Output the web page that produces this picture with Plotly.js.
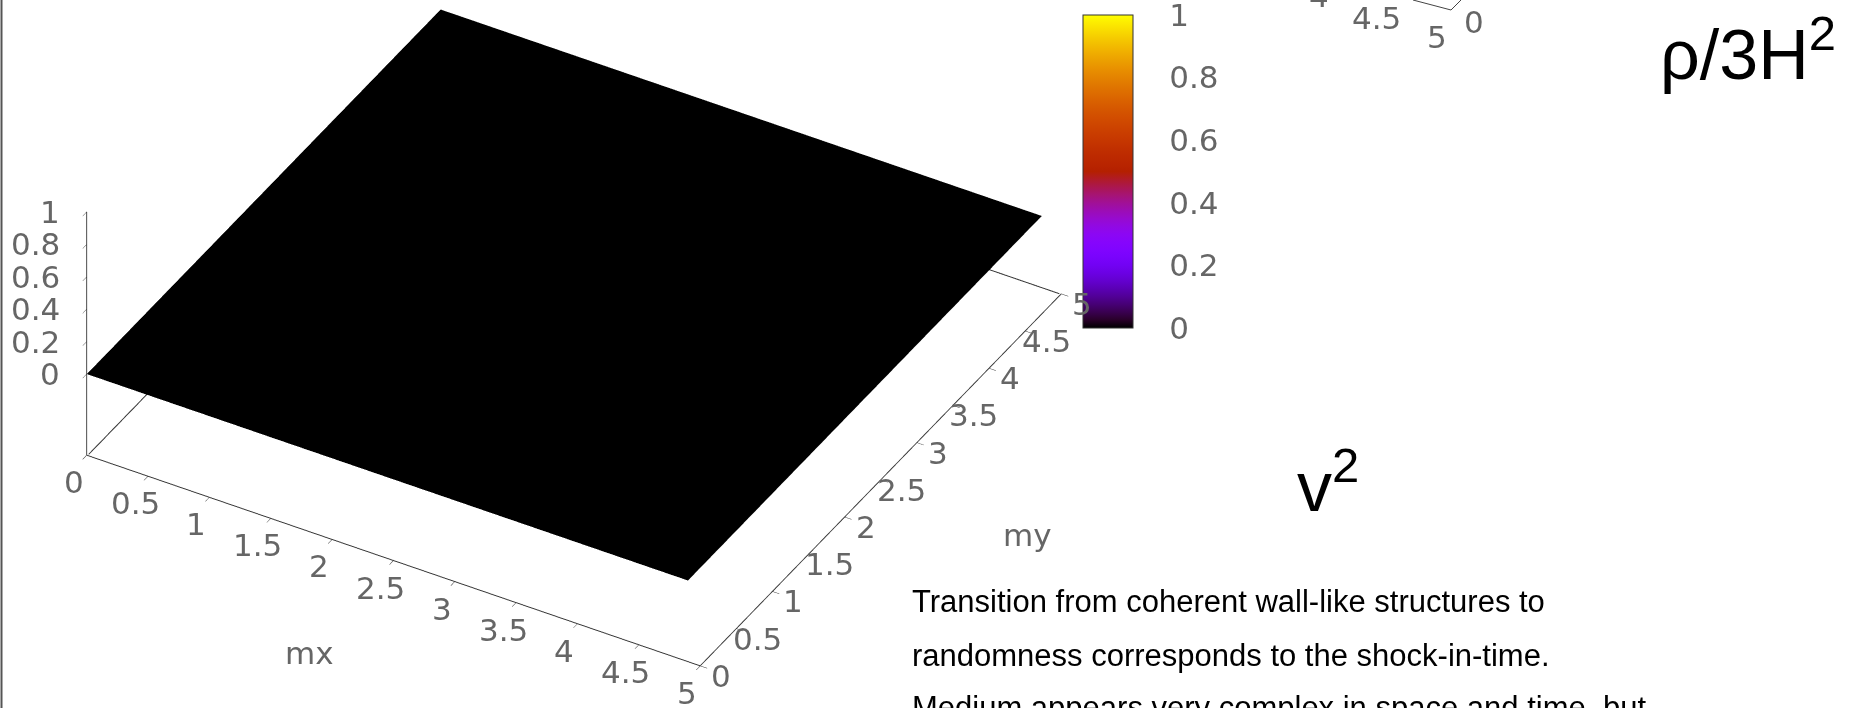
<!DOCTYPE html>
<html>
<head>
<meta charset="utf-8">
<script src="https://cdn.plot.ly/plotly-3.0.1.min.js"></script>
<style>
html,body{margin:0;padding:0;background:#fff;overflow:hidden}
#chart{width:1857px;height:708px}
</style>
</head>
<body>
<div id="chart"></div>
<script>
// ---------------- data ----------------
const mx = [0, 0.5, 1, 1.5, 2, 2.5, 3, 3.5, 4, 4.5, 4.9];
const my = [0, 0.5, 1, 1.5, 2, 2.5, 3, 3.5, 4, 4.5, 4.9];
const surfaceZ = [
  [0,0,0,0,0,0,0,0,0,0,0],
  [0,0,0,0,0,0,0,0,0,0,0],
  [0,0,0,0,0,0,0,0,0,0,0],
  [0,0,0,0,0,0,0,0,0,0,0],
  [0,0,0,0,0,0,0,0,0,0,0],
  [0,0,0,0,0,0,0,0,0,0,0],
  [0,0,0,0,0,0,0,0,0,0,0],
  [0,0,0,0,0,0,0,0,0,0,0],
  [0,0,0,0,0,0,0,0,0,0,0],
  [0,0,0,0,0,0,0,0,0,0,0],
  [0,0,0,0,0,0,0,0,0,0,0]
];
const xRange = [0, 5];
const yRange = [0, 5];
const zRange = [-0.5, 1];
const xyTicks = [0, 0.5, 1, 1.5, 2, 2.5, 3, 3.5, 4, 4.5, 5];
const xyTickText = ['0', '0.5', '1', '1.5', '2', '2.5', '3', '3.5', '4', '4.5', '5'];
const zTicks = [0, 0.2, 0.4, 0.6, 0.8, 1];
const zTickText = ['0', '0.2', '0.4', '0.6', '0.8', '1'];
const cbTicks = [0, 0.2, 0.4, 0.6, 0.8, 1];
const cbTickText = ['0', '0.2', '0.4', '0.6', '0.8', '1'];
const xTitle = 'mx';
const yTitle = 'my';
const labelRho = 'ρ/3H<sup>2</sup>';
const labelV = 'v<sup>2</sup>';
const paragraph = [
  'Transition from coherent wall-like structures to',
  'randomness corresponds to the shock-in-time.',
  'Medium appears very complex in space and time, but'
];
const fragmentLabels = ['4', '4.5', '5', '0'];

// ---------------- styling helpers ----------------
const W = 1857, H = 708;
const px = v => v / W;
const py = v => 1 - v / H;

// gnuplot default palette (rgbformulae 7,5,15)
const colorscale = [];
for (let i = 0; i <= 40; i++) {
  const t = i / 40;
  const r = Math.round(255 * Math.sqrt(t));
  const g = Math.round(255 * Math.pow(t, 3));
  const b = Math.round(255 * Math.max(0, Math.sin(2 * Math.PI * t)));
  colorscale.push([t, `rgb(${r},${g},${b})`]);
}

// orthographic camera (gnuplot-like view); zoom is set through aspectratio
const phi = -60 * Math.PI / 180, th = 36.5 * Math.PI / 180;
const dir = [Math.cos(th) * Math.cos(phi), Math.cos(th) * Math.sin(phi), Math.sin(th)];
const rightV = [-Math.sin(phi), Math.cos(phi), 0];
const upV = [-Math.sin(th) * Math.cos(phi), -Math.sin(th) * Math.sin(phi), Math.cos(th)];
const S0 = 350;           // px per world unit of the orthographic view
const D = 4;              // camera distance
const a = (W / 2 - 578) / S0, b = -(H / 2 - 254) / S0;
const center = [0, 1, 2].map(i => a * rightV[i] + b * upV[i]);
const eye = [0, 1, 2].map(i => center[i] + D * dir[i]);

const tickFont = {family: 'DejaVu Sans', size: 31, color: '#666'};
const axCommon = {
  showbackground: false, showgrid: false, zeroline: false, showspikes: false,
  showline: true, linecolor: '#333', linewidth: 2,
  ticks: 'inside', ticklen: 8, tickcolor: '#333', tickwidth: 1,
  showticklabels: false, title: {text: ''}
};

const surface = {
  type: 'surface',
  x: mx, y: my, z: surfaceZ,
  cmin: 0, cmax: 1,
  colorscale: colorscale,
  hoverinfo: 'skip',
  lighting: {ambient: 1, diffuse: 0, specular: 0, roughness: 1, fresnel: 0},
  showscale: true,
  colorbar: {
    x: px(1083), xanchor: 'left', y: py(15), yanchor: 'top',
    len: 313, lenmode: 'pixels', thickness: 50, thicknessmode: 'pixels',
    xpad: 0, ypad: 0, outlinewidth: 1, outlinecolor: '#333', borderwidth: 0,
    tickmode: 'array', tickvals: cbTicks, ticktext: cbTickText,
    ticklabeloverflow: 'allow',
    ticks: 'outside', ticklen: 30, tickcolor: 'rgba(0,0,0,0)', tickfont: tickFont
  }
};

// back edges of the base rectangle (hidden by the surface where it covers them),
// pulled a hair inside the box so they are not clipped by the scene bounds
const ex = (xRange[1] - xRange[0]) * 0.002, ey = (yRange[1] - yRange[0]) * 0.002, ez = (zRange[1] - zRange[0]) * 0.002;
const baseEdges = {
  type: 'scatter3d', mode: 'lines',
  x: [xRange[0] + ex, xRange[0] + ex, xRange[1] - ex],
  y: [yRange[0] + ey, yRange[1] - ey, yRange[1] - ey],
  z: [zRange[0] + ez, zRange[0] + ez, zRange[0] + ez],
  line: {color: '#333', width: 2},
  hoverinfo: 'skip', showlegend: false
};

// tick labels as flat (gnuplot-like) scene annotations
const sceneAnn = [];
xyTicks.forEach((t, i) => sceneAnn.push({x: t, y: yRange[0], z: zRange[0], text: xyTickText[i],
  xanchor: 'center', yanchor: 'middle', xshift: -13, yshift: -27}));
xyTicks.forEach((t, i) => sceneAnn.push({x: xRange[1], y: t, z: zRange[0], text: xyTickText[i],
  xanchor: 'center', yanchor: 'middle', xshift: 21, yshift: -10}));
zTicks.forEach((t, i) => sceneAnn.push({x: xRange[0], y: yRange[0], z: t, text: zTickText[i],
  xanchor: 'right', yanchor: 'middle', xshift: -25, yshift: 0}));
sceneAnn.push({x: (xRange[0] + xRange[1]) / 2, y: yRange[0], z: zRange[0], text: xTitle,
  xanchor: 'center', yanchor: 'middle', xshift: -84, yshift: -92});
sceneAnn.push({x: xRange[1], y: (yRange[0] + yRange[1]) / 2, z: zRange[0], text: yTitle,
  xanchor: 'center', yanchor: 'middle', xshift: 147, yshift: -55});
sceneAnn.forEach(o => { o.showarrow = false; o.font = tickFont; });

const txtFont = {family: 'Liberation Sans, Arial', color: '#000'};
const annotations = [
  {text: labelRho, x: px(1838), y: py(50), xanchor: 'right', yanchor: 'middle',
   font: Object.assign({size: 70}, txtFont)},
  {text: labelV, x: px(1295), y: py(482), xanchor: 'left', yanchor: 'middle',
   font: Object.assign({size: 70}, txtFont)},
  {text: paragraph[0], x: px(910), y: py(601), xanchor: 'left', yanchor: 'middle',
   font: Object.assign({size: 31}, txtFont)},
  {text: paragraph[1], x: px(910), y: py(655), xanchor: 'left', yanchor: 'middle',
   font: Object.assign({size: 31}, txtFont)},
  {text: paragraph[2], x: px(910), y: py(707), xanchor: 'left', yanchor: 'middle',
   font: Object.assign({size: 31}, txtFont)},
  {text: fragmentLabels[0], x: px(1319), y: py(-4), xanchor: 'center', yanchor: 'middle', font: tickFont},
  {text: fragmentLabels[1], x: px(1376), y: py(18), xanchor: 'center', yanchor: 'middle', font: tickFont},
  {text: fragmentLabels[2], x: px(1437), y: py(37), xanchor: 'center', yanchor: 'middle', font: tickFont},
  {text: fragmentLabels[3], x: px(1474), y: py(22), xanchor: 'center', yanchor: 'middle', font: tickFont}
].map(o => Object.assign({xref: 'paper', yref: 'paper', showarrow: false}, o));

// colorbar inner tick marks (both edges), from the colorbar ticks
const cbTop = 15, cbLen = 313, cbLeft = 1083, cbRight = 1133;
const shapes = [
  {type: 'line', xref: 'paper', yref: 'paper', x0: px(1.5), x1: px(1.5), y0: 0, y1: 1,
   line: {color: '#555', width: 2}},
  {type: 'line', xref: 'paper', yref: 'paper', x0: px(1413), y0: py(0), x1: px(1451), y1: py(10),
   line: {color: '#444', width: 1}},
  {type: 'line', xref: 'paper', yref: 'paper', x0: px(1451), y0: py(10), x1: px(1461), y1: py(0),
   line: {color: '#444', width: 1}}
];
cbTicks.slice(1, -1).forEach(t => {
  const yy = py(cbTop + (1 - t) * cbLen);
  shapes.push({type: 'line', xref: 'paper', yref: 'paper', x0: px(cbLeft), x1: px(cbLeft + 6), y0: yy, y1: yy,
    line: {color: '#333', width: 1.5}});
  shapes.push({type: 'line', xref: 'paper', yref: 'paper', x0: px(cbRight - 6), x1: px(cbRight), y0: yy, y1: yy,
    line: {color: '#333', width: 1.5}});
});

const layout = {
  width: W, height: H,
  margin: {l: 0, r: 0, t: 0, b: 0, pad: 0},
  paper_bgcolor: '#fff',
  showlegend: false,
  scene: {
    domain: {x: [0, 1], y: [0, 1]},
    aspectmode: 'manual',
    aspectratio: {x: 2.001, y: 2.04, z: 0.855},
    camera: {
      projection: {type: 'orthographic'},
      up: {x: 0, y: 0, z: 1},
      center: {x: center[0], y: center[1], z: center[2]},
      eye: {x: eye[0], y: eye[1], z: eye[2]}
    },
    xaxis: Object.assign({}, axCommon, {range: xRange, tickmode: 'array', tickvals: xyTicks}),
    yaxis: Object.assign({}, axCommon, {range: yRange, tickmode: 'array', tickvals: xyTicks}),
    zaxis: Object.assign({}, axCommon, {range: zRange, tickmode: 'array', tickvals: zTicks}),
    annotations: sceneAnn
  },
  annotations: annotations,
  shapes: shapes
};

Plotly.newPlot('chart', [surface, baseEdges], layout, {displayModeBar: false});
</script>
</body>
</html>
